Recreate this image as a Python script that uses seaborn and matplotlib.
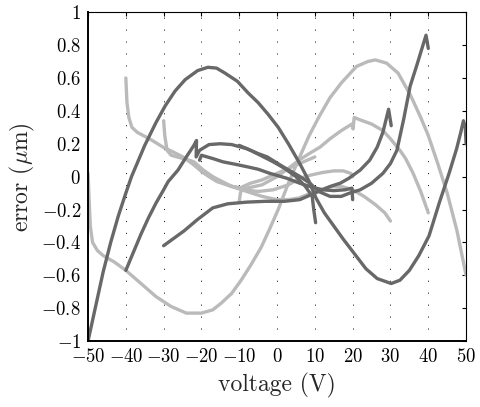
import seaborn as sns
import matplotlib.pyplot as plt

# sweeps -A .. +A as (voltage, error) pairs
dark50_v = [-50, -48, -46, -44, -42, -40, -38.5, -35, -32, -29.6, -27, -24.3, -21, -18.3, -16, -13.8, -10.5, -7.7, -5, -2.4, 0.3, 3, 6, 8.5, 10.3, 12.5, 15, 17.5, 20.5, 23.5, 26.5, 30.2, 32.5, 35, 37.5, 40.2, 42.9, 45.5, 47.5, 48.6, 49.3, 49.8, 50]
dark50_e = [-1.0, -0.79, -0.58, -0.4, -0.24, -0.1, 0.0, 0.19, 0.33, 0.43, 0.52, 0.59, 0.645, 0.665, 0.66, 0.63, 0.58, 0.51, 0.45, 0.38, 0.3, 0.2, 0.08, -0.03, -0.13, -0.22, -0.3, -0.38, -0.47, -0.56, -0.62, -0.65, -0.63, -0.57, -0.48, -0.36, -0.16, 0.02, 0.17, 0.27, 0.34, 0.3, 0.2]

dark40_v = [-40, -38, -36, -34, -32, -30, -28.8, -26.2, -24, -22, -21.3, -21.4, -20.5, -18, -15, -12, -8, -5, -2.6, 1.6, 6.1, 8.7, 11, 14, 17, 19.2, 22, 25, 28, 30, 31.7, 33.5, 35.2, 37, 39.4, 40]
dark40_e = [-0.57, -0.46, -0.35, -0.25, -0.16, -0.08, -0.03, 0.04, 0.12, 0.19, 0.22, 0.12, 0.16, 0.195, 0.2, 0.195, 0.17, 0.14, 0.12, 0.06, 0.0, -0.04, -0.09, -0.12, -0.12, -0.1, -0.08, -0.04, 0.02, 0.08, 0.16, 0.35, 0.55, 0.68, 0.86, 0.78]

dark30_v = [-30, -27, -24.6, -21, -17, -13, -8, -3, 2, 6, 9, 11, 14, 16.7, 19, 22, 24.5, 26.5, 28, 29.5, 30.2]
dark30_e = [-0.42, -0.37, -0.33, -0.26, -0.19, -0.165, -0.155, -0.15, -0.15, -0.14, -0.11, -0.09, -0.06, -0.04, -0.01, 0.04, 0.1, 0.18, 0.27, 0.41, 0.31]

dark20_v = [-20.5, -20, -17, -14.3, -11, -7.9, -5, -1.9, 2.6, 6, 8.7, 12, 15, 18, 19.8, 20]
dark20_e = [0.1, 0.13, 0.11, 0.09, 0.075, 0.06, 0.045, 0.02, -0.01, -0.04, -0.06, -0.08, -0.085, -0.08, -0.07, -0.14]

dark10_v = [-10, -7, -4, -1, 2, 5, 7.5, 9.3, 9.7, 10.2]
dark10_e = [0.19, 0.16, 0.125, 0.09, 0.05, 0.0, -0.06, -0.12, -0.2, -0.28]

light50_v = [-50, -49.7, -49.4, -48.8, -47.5, -46, -43, -40, -36, -32, -28, -24, -20, -17, -14.8, -12, -9.5, -7, -4.2, -2, 0.3, 3, 5.8, 8.5, 11, 14, 17, 21, 24, 26, 29, 32, 35.2, 38, 40, 42.5, 45, 47.6, 50]
light50_e = [0.02, -0.15, -0.3, -0.4, -0.45, -0.48, -0.52, -0.57, -0.65, -0.73, -0.79, -0.83, -0.83, -0.81, -0.77, -0.71, -0.63, -0.54, -0.43, -0.32, -0.2, -0.04, 0.11, 0.25, 0.36, 0.48, 0.57, 0.67, 0.7, 0.71, 0.69, 0.63, 0.5, 0.36, 0.25, 0.08, -0.1, -0.33, -0.6]

light40_v = [-40, -39.7, -39.2, -38.4, -37, -35.4, -33, -30.2, -27.5, -24.9, -22.5, -20.4, -18, -15.9, -12, -8, -4, 0, 3, 5.8, 8.5, 11.4, 14, 17, 19.8, 20.1, 20.4, 22, 25, 28, 30, 32.5, 34, 36, 38, 40]
light40_e = [0.6, 0.45, 0.36, 0.3, 0.27, 0.25, 0.22, 0.18, 0.15, 0.12, 0.08, 0.04, 0.0, -0.03, -0.06, -0.07, -0.05, 0.0, 0.05, 0.1, 0.14, 0.18, 0.23, 0.28, 0.32, 0.29, 0.36, 0.345, 0.32, 0.28, 0.23, 0.16, 0.11, 0.02, -0.09, -0.22]

light30_v = [-30, -29.7, -29.1, -28, -26.5, -24, -22, -19.5, -17, -14.5, -12, -8, -4, 0, 3, 5.8, 9, 12, 14.5, 17.2, 20, 23, 26, 28.5, 30]
light30_e = [0.34, 0.25, 0.16, 0.13, 0.12, 0.105, 0.09, 0.04, 0.0, -0.03, -0.06, -0.09, -0.12, -0.14, -0.14, -0.13, -0.1, -0.075, -0.06, -0.06, -0.08, -0.12, -0.17, -0.22, -0.27]

light20_v = [-20, -17, -13, -9, -5, -1, 3, 6, 9, 12, 15, 17.5, 19.5, 20]
light20_e = [0.03, -0.01, -0.05, -0.08, -0.09, -0.08, -0.05, -0.01, 0.01, 0.025, 0.035, 0.035, 0.02, 0.0]

light10_v = [-10, -9.7, -9, -7, -4, -1, 2, 5, 8, 10]
light10_e = [-0.15, -0.1, -0.06, -0.04, -0.02, 0.01, 0.04, 0.07, 0.1, 0.12]

x_ticks = [-50, -40, -30, -20, -10, 0, 10, 20, 30, 40, 50]
x_labels = ['$-50$', '$-40$', '$-30$', '$-20$', '$-10$', '$0$', '$10$', '$20$', '$30$', '$40$', '$50$']
y_ticks = [-1, -0.8, -0.6, -0.4, -0.2, 0, 0.2, 0.4, 0.6, 0.8, 1]
y_labels = ['$-1$', '$-0.8$', '$-0.6$', '$-0.4$', '$-0.2$', '$0$', '$0.2$', '$0.4$', '$0.6$', '$0.8$', '$1$']

sns.set_style('white')
plt.rcParams['font.family'] = ['cmr10', 'DejaVu Serif']
plt.rcParams['mathtext.fontset'] = 'cm'

dark = '#686868'
light = '#bababa'
lw = 2.4

fig = plt.figure(figsize=(4.81, 4.07), dpi=100)
ax = fig.add_axes([0.183, 0.162, 0.786, 0.808])

for xs, ys in [(light50_v, light50_e), (light40_v, light40_e), (light30_v, light30_e),
               (light20_v, light20_e), (light10_v, light10_e)]:
    sns.lineplot(x=xs, y=ys, sort=False, estimator=None, color=light, linewidth=lw, ax=ax)
for xs, ys in [(dark50_v, dark50_e), (dark40_v, dark40_e), (dark30_v, dark30_e),
               (dark20_v, dark20_e), (dark10_v, dark10_e)]:
    sns.lineplot(x=xs, y=ys, sort=False, estimator=None, color=dark, linewidth=lw, ax=ax)

for xv in x_ticks[1:-1]:
    ax.axvline(xv, color='black', linewidth=0.7, linestyle=(0, (1, 11.3)), zorder=0)

ax.set_xlim(-50, 50)
ax.set_ylim(-1, 1)
ax.set_xticks(x_ticks)
ax.set_xticklabels(x_labels)
ax.set_yticks(y_ticks)
ax.set_yticklabels(y_labels)
ax.tick_params(direction='in', length=3, width=0.8, top=True, right=True,
               labelsize=13.5, colors='black', pad=5)
for side in ['top', 'right']:
    ax.spines[side].set_linewidth(0.8)
for side in ['bottom', 'left']:
    ax.spines[side].set_linewidth(1.4)
for sp in ax.spines.values():
    sp.set_color('black')

ax.set_xlabel('voltage (V)', fontsize=17, labelpad=5)
ax.set_ylabel(r'error ($\mu$m)', fontsize=17, labelpad=3)

plt.savefig('out.png', dpi=100)
